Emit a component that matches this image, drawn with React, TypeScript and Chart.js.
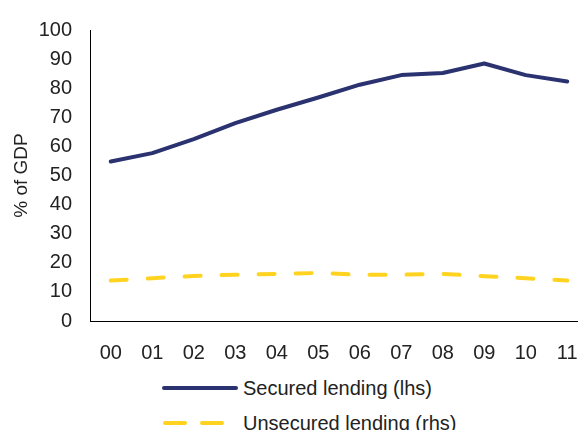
import React, { useEffect, useRef } from "react";
import { Chart, registerables } from "chart.js";

Chart.register(...registerables);

const categories = ["00", "01", "02", "03", "04", "05", "06", "07", "08", "09", "10", "11"];
const securedLending = [54.8, 57.7, 62.5, 68.0, 72.6, 76.8, 81.2, 84.5, 85.2, 88.5, 84.5, 82.3];
const unsecuredLending = [13.9, 14.7, 15.5, 15.9, 16.2, 16.5, 15.9, 15.9, 16.2, 15.4, 14.7, 13.9];
const yMin = 0;
const yMax = 100;
const yStep = 10;
const securedLabel = "Secured lending (lhs)";
const unsecuredLabel = "Unsecured lending (rhs)";
const yTitle = "% of GDP";

const NAVY = "#2B3270";
const YELLOW = "#FFD320";
const TEXT = "#222222";
const FONT = "'Liberation Sans', Arial, sans-serif";

export default function App() {
  const ref = useRef<HTMLCanvasElement | null>(null);

  useEffect(() => {
    if (!ref.current) return;
    const chart = new Chart(ref.current, {
      type: "line",
      data: {
        labels: categories,
        datasets: [
          {
            label: securedLabel,
            data: securedLending,
            borderColor: NAVY,
            backgroundColor: NAVY,
            borderWidth: 4,
            pointRadius: 0,
            tension: 0,
            yAxisID: "y",
            borderCapStyle: "round",
            borderJoinStyle: "round",
          },
          {
            label: unsecuredLabel,
            data: unsecuredLending,
            borderColor: YELLOW,
            backgroundColor: YELLOW,
            borderWidth: 4,
            pointRadius: 0,
            tension: 0,
            borderDash: [16, 21],
            borderCapStyle: "round",
            yAxisID: "y1",
          },
        ],
      },
      options: {
        animation: false,
        responsive: false,
        devicePixelRatio: 1,
        layout: { padding: { top: 26, right: 12, left: 0, bottom: 0 } },
        plugins: { legend: { display: false }, tooltip: { enabled: false } },
        scales: {
          x: {
            type: "category",
            offset: true,
            grid: { display: false, drawTicks: false },
            border: { display: true, color: "#000", width: 1 },
            ticks: {
              color: TEXT,
              font: { family: FONT, size: 20 },
              padding: 20,
              autoSkip: false,
              maxRotation: 0,
            },
            afterFit: (s: any) => {
              s.height = 40;
            },
          },
          y: {
            position: "left",
            min: yMin,
            max: yMax,
            grid: { display: false, drawTicks: false },
            border: { display: true, color: "#000", width: 1 },
            ticks: {
              stepSize: yStep,
              color: TEXT,
              font: { family: FONT, size: 20 },
              padding: 18,
            },
            title: {
              display: true,
              text: yTitle,
              color: TEXT,
              font: { family: FONT, size: 19 },
              padding: { top: 10, bottom: 0 },
            },
            afterFit: (s: any) => {
              s.width = 90;
            },
          },
          y1: {
            position: "right",
            display: false,
            min: yMin,
            max: yMax,
          },
        },
      },
    });
    return () => chart.destroy();
  }, []);

  return (
    <div
      style={{
        position: "fixed",
        left: 0,
        top: 0,
        width: 578,
        height: 430,
        overflow: "hidden",
        background: "#fff",
        fontFamily: FONT,
      }}
    >
      <canvas
        ref={ref}
        width={600}
        height={361}
        style={{ position: "absolute", left: 0, top: 0, width: 600, height: 361 }}
      />
      <svg style={{ position: "absolute", left: 160, top: 378 }} width={80} height={20}>
        <line x1={4} x2={76} y1={10} y2={10} stroke={NAVY} strokeWidth={4} strokeLinecap="round" />
      </svg>
      <div
        style={{
          position: "absolute",
          left: 243,
          top: 376,
          fontSize: 20,
          lineHeight: "24px",
          color: TEXT,
          whiteSpace: "nowrap",
        }}
      >
        {securedLabel}
      </div>
      <svg style={{ position: "absolute", left: 160, top: 413 }} width={80} height={20}>
        <line
          x1={5}
          x2={62}
          y1={10}
          y2={10}
          stroke={YELLOW}
          strokeWidth={4}
          strokeLinecap="round"
          strokeDasharray="20 17"
        />
      </svg>
      <div
        style={{
          position: "absolute",
          left: 243,
          top: 411,
          fontSize: 20,
          lineHeight: "24px",
          color: TEXT,
          whiteSpace: "nowrap",
        }}
      >
        {unsecuredLabel}
      </div>
    </div>
  );
}
